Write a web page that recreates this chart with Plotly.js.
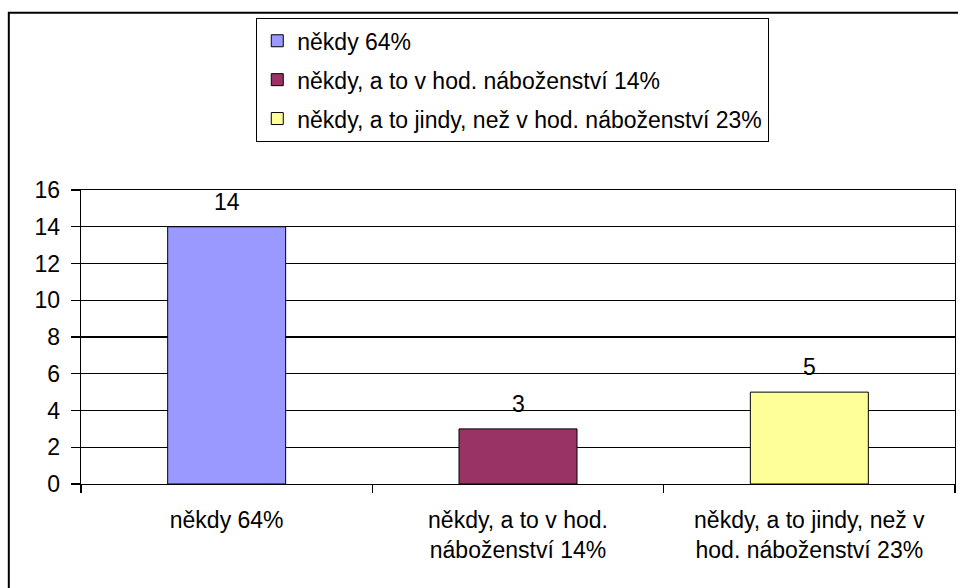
<!DOCTYPE html>
<html>
<head>
<meta charset="utf-8">
<script src="https://cdn.plot.ly/plotly-3.0.1.min.js"></script>
<style>html,body{margin:0;padding:0;background:#fff;}#chart{width:958px;height:588px;}</style>
</head>
<body>
<div id="chart"></div>
<script>
var legendNames = ['někdy 64%', 'někdy, a to v hod. náboženství 14%', 'někdy, a to jindy, než v hod. náboženství 23%'];
var tickLabels = ['někdy 64%', 'někdy, a to v hod.<br>náboženství 14%', 'někdy, a to jindy, než v<br>hod. náboženství 23%'];
var values = [14, 3, 5];
var colors = ['#9999FF', '#993366', '#FFFF99'];
var yTicks = [0, 2, 4, 6, 8, 10, 12, 14, 16];

var FONT = 'Liberation Sans, Arial, sans-serif';

var traces = values.map(function (v, i) {
  return {
    type: 'bar',
    x: [tickLabels[i]],
    y: [v],
    name: legendNames[i],
    legendgroup: 'g' + i,
    width: 0.405,
    marker: {color: colors[i], line: {color: '#000', width: 1}},
    hoverinfo: 'none'
  };
});

var valueLabels = values.map(function (v, i) {
  return {
    xref: 'x', yref: 'y',
    x: tickLabels[i], y: v,
    text: String(v),
    showarrow: false,
    xanchor: 'center', yanchor: 'bottom',
    yshift: 10,
    font: {family: FONT, size: 23, color: '#000'}
  };
});

var layout = {
  width: 958,
  height: 588,
  paper_bgcolor: '#fff',
  plot_bgcolor: '#fff',
  font: {family: FONT, size: 23, color: '#000'},
  margin: {l: 81, r: 3, t: 190, b: 104, pad: 0},
  barmode: 'overlay',
  showlegend: true,
  legend: {
    x: 0.2002, y: 1.585, xanchor: 'left', yanchor: 'top',
    bordercolor: '#000', borderwidth: 1.3, bgcolor: '#fff',
    font: {family: FONT, size: 23, color: '#000'},
    tracegroupgap: 6,
    traceorder: 'grouped',
    itemwidth: 30
  },
  xaxis: {
    type: 'category',
    categoryorder: 'array',
    categoryarray: tickLabels,
    showline: true, linecolor: '#000', linewidth: 1.3, mirror: true,
    ticks: 'outside', tickson: 'boundaries', ticklen: 8, tickcolor: '#000', tickwidth: 1.3,
    ticklabelstandoff: 15,
    showgrid: false, zeroline: false,
    tickfont: {family: FONT, size: 23, color: '#000'},
    fixedrange: true
  },
  yaxis: {
    range: [0, 16],
    tickvals: yTicks,
    ticktext: yTicks.map(String),
    showline: true, linecolor: '#000', linewidth: 1.3, mirror: true,
    ticks: 'outside', ticklen: 9, tickcolor: '#000', tickwidth: 1.3,
    ticklabelstandoff: 6,
    showgrid: true, gridcolor: '#000', gridwidth: 1.2,
    zeroline: false,
    tickfont: {family: FONT, size: 23, color: '#000'},
    fixedrange: true
  },
  annotations: valueLabels,
  shapes: [{
    type: 'rect', xref: 'paper', yref: 'paper',
    x0: -0.0826, x1: 1.01, y0: -0.4, y1: 1.6027,
    line: {color: '#000', width: 2}, fillcolor: 'rgba(0,0,0,0)', layer: 'below'
  }]
};

Plotly.newPlot('chart', traces, layout, {displayModeBar: false, staticPlot: true});
</script>
</body>
</html>
